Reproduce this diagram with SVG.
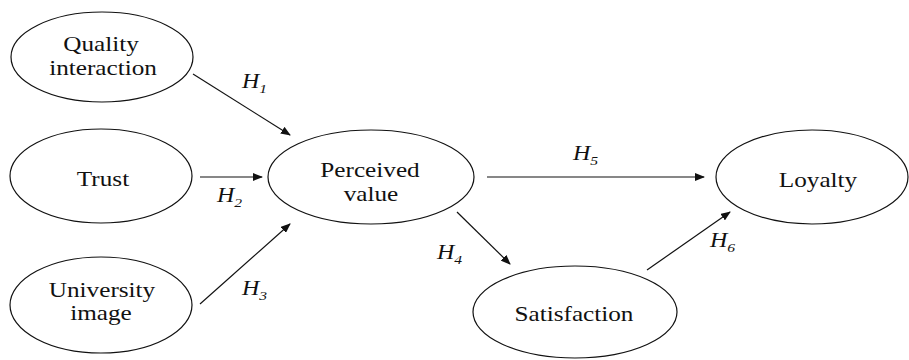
<svg xmlns="http://www.w3.org/2000/svg" width="909" height="360" viewBox="0 0 909 360">
<defs>
<marker id="ah" markerUnits="userSpaceOnUse" markerWidth="10" markerHeight="8" refX="9" refY="4" orient="auto">
<path d="M0,0 L10,4 L0,8 z" fill="#111"/>
</marker>
</defs>
<g fill="#fff" stroke="#111" stroke-width="1.2">
<ellipse id="e-quality" cx="102" cy="57" rx="91" ry="45"/>
<ellipse id="e-trust" cx="101" cy="176" rx="91" ry="47"/>
<ellipse id="e-university" cx="101" cy="305" rx="91" ry="48"/>
<ellipse id="e-perceived" cx="371" cy="177" rx="103" ry="47"/>
<ellipse id="e-satisfaction" cx="575" cy="312" rx="102" ry="46"/>
<ellipse id="e-loyalty" cx="812" cy="177" rx="96" ry="47"/>
</g>
<g font-family="Liberation Serif" font-size="21" fill="#111" text-anchor="middle">
<g id="quality">
<text font-family="Liberation Serif" transform="matrix(1.2 0 0 1 101 51)">Quality</text>
<text font-family="Liberation Serif" transform="matrix(1.2 0 0 1 103 75)">interaction</text></g>
<g id="trust">
<text font-family="Liberation Serif" transform="matrix(1.2 0 0 1 103 186)">Trust</text></g>
<g id="university">
<text font-family="Liberation Serif" transform="matrix(1.2 0 0 1 102 297)">University</text>
<text font-family="Liberation Serif" transform="matrix(1.2 0 0 1 101 320)">image</text></g>
<g id="perceived">
<text font-family="Liberation Serif" transform="matrix(1.2 0 0 1 370 177)">Perceived</text>
<text font-family="Liberation Serif" transform="matrix(1.2 0 0 1 371 201)">value</text></g>
<g id="satisfaction">
<text font-family="Liberation Serif" transform="matrix(1.2 0 0 1 574 321)">Satisfaction</text></g>
<g id="loyalty">
<text font-family="Liberation Serif" transform="matrix(1.2 0 0 1 818 187)">Loyalty</text></g>
</g>
<g id="edges" stroke="#111" stroke-width="1.2" marker-end="url(#ah)">
<line x1="193" y1="74" x2="290" y2="135"/>
<line x1="200" y1="177" x2="262" y2="177"/>
<line x1="200" y1="304" x2="290" y2="224"/>
<line x1="457" y1="212" x2="510" y2="264"/>
<line x1="487" y1="177" x2="704" y2="177"/>
<line x1="647" y1="270" x2="730" y2="212"/>
</g>
<g id="labels" font-family="Liberation Serif" font-size="20" font-style="italic" fill="#111">
<text font-family="Liberation Serif" transform="matrix(1.2 0 0 1 242 88)">H<tspan font-size="13" dy="5">1</tspan></text>
<text font-family="Liberation Serif" transform="matrix(1.2 0 0 1 217 202)">H<tspan font-size="13" dy="5">2</tspan></text>
<text font-family="Liberation Serif" transform="matrix(1.2 0 0 1 242 295)">H<tspan font-size="13" dy="5">3</tspan></text>
<text font-family="Liberation Serif" transform="matrix(1.2 0 0 1 437 259)">H<tspan font-size="13" dy="5">4</tspan></text>
<text font-family="Liberation Serif" transform="matrix(1.2 0 0 1 573 160)">H<tspan font-size="13" dy="5">5</tspan></text>
<text font-family="Liberation Serif" transform="matrix(1.2 0 0 1 710 247)">H<tspan font-size="13" dy="5">6</tspan></text>
</g>
</svg>
